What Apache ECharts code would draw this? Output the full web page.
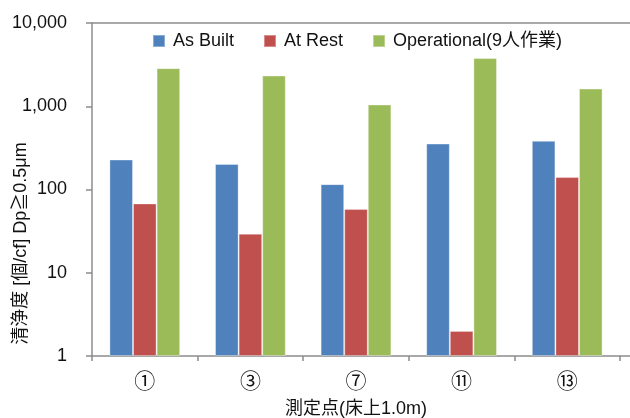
<!DOCTYPE html>
<html>
<head>
<meta charset="utf-8">
<script src="https://cdn.jsdelivr.net/npm/echarts@6/dist/echarts.min.js"></script>
<style>
  html, body { margin: 0; padding: 0; background: #fff; }
  #chart { width: 630px; height: 418px; }
</style>
</head>
<body>
<div id="chart"></div>
<script>
// Measurement points (floor + 1.0 m)
const categories = ['①', '③', '⑦', '⑪', '⑬'];

// Particle counts [pcs/cf], Dp ≥ 0.5 µm
const asBuilt = [229, 203, 116, 356, 384];
const atRest = [68, 29.5, 58.5, 2, 141];
const operational = [2870, 2340, 1050, 3790, 1630];

const seriesNames = ['As Built', 'At Rest', 'Operational(9人作業)'];
const yTicks = [1, 10, 100, 1000, 10000];

const FONT = "'Liberation Sans', 'Noto Sans CJK JP', sans-serif";
const AXIS_COLOR = '#8c8c8c';

const chart = echarts.init(document.getElementById('chart'), null, { renderer: 'canvas' });

const GRID_LEFT = 92, GRID_TOP = 23, GRID_W = 528, GRID_H = 333;

chart.setOption({
  animation: false,
  backgroundColor: '#ffffff',
  textStyle: { fontFamily: FONT },
  color: ['#4f81bd', '#c0504d', '#9bbb59'],
  legend: {
    left: 152,
    top: 32,
    padding: 0,
    itemWidth: 12,
    itemHeight: 12,
    itemGap: 29,
    icon: 'rect',
    textStyle: { fontFamily: FONT, fontSize: 18, color: '#111', padding: [0, 0, 0, 3] },
    data: seriesNames
  },
  grid: {
    left: GRID_LEFT, top: GRID_TOP, width: GRID_W, height: GRID_H,
    containLabel: false, outerBoundsMode: 'none'
  },
  xAxis: {
    type: 'category',
    data: categories,
    name: '測定点(床上1.0m)',
    nameLocation: 'middle',
    nameGap: 44,
    nameMoveOverlap: false,
    nameTextStyle: { fontFamily: FONT, fontSize: 18, color: '#111' },
    axisLine: { lineStyle: { color: AXIS_COLOR, width: 1.5 } },
    axisTick: { show: true, length: 5, alignWithLabel: false, lineStyle: { color: AXIS_COLOR, width: 1.5 } },
    axisLabel: { fontFamily: "'Noto Sans CJK JP', sans-serif", fontSize: 21, color: '#111', margin: 14 },
    splitLine: { show: false }
  },
  yAxis: {
    type: 'log',
    logBase: 10,
    min: yTicks[0],
    max: yTicks[yTicks.length - 1],
    name: '清浄度 [個/cf] Dp≧0.5μm',
    nameLocation: 'middle',
    nameRotate: 90,
    nameGap: 62,
    nameMoveOverlap: false,
    nameTextStyle: { fontFamily: FONT, fontSize: 18, color: '#111', padding: [0, 108, 0, 0] },
    axisLine: { show: true, lineStyle: { color: AXIS_COLOR, width: 1.5 } },
    axisTick: { show: true, length: 6, lineStyle: { color: AXIS_COLOR, width: 1.5 } },
    axisLabel: {
      fontFamily: FONT, fontSize: 18, color: '#111', margin: 25,
      formatter: v => Math.round(v).toLocaleString('en-US')
    },
    splitLine: { show: false }
  },
  series: [
    { name: seriesNames[0], type: 'bar', data: asBuilt, barGap: '0%', barCategoryGap: '33%',
      itemStyle: { borderColor: 'rgba(255,255,255,0.35)', borderWidth: 1 } },
    { name: seriesNames[1], type: 'bar', data: atRest, barGap: '0%', barCategoryGap: '33%',
      itemStyle: { borderColor: 'rgba(255,255,255,0.35)', borderWidth: 1 } },
    { name: seriesNames[2], type: 'bar', data: operational, barGap: '0%', barCategoryGap: '33%',
      itemStyle: { borderColor: 'rgba(255,255,255,0.35)', borderWidth: 1 } }
  ],
  graphic: [
    // plot-area top border and the axis line running on to the right edge
    { type: 'line', silent: true,
      shape: { x1: GRID_LEFT, y1: GRID_TOP, x2: 630, y2: GRID_TOP },
      style: { stroke: AXIS_COLOR, lineWidth: 1.5 } },
    { type: 'line', silent: true,
      shape: { x1: GRID_LEFT + GRID_W, y1: GRID_TOP + GRID_H, x2: 630, y2: GRID_TOP + GRID_H },
      style: { stroke: AXIS_COLOR, lineWidth: 1.5 } }
  ]
});
</script>
</body>
</html>
